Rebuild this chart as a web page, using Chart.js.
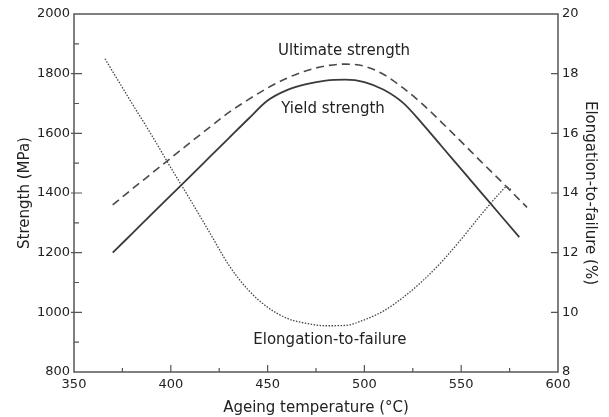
<!DOCTYPE html>
<html>
<head>
<meta charset="utf-8">
<script src="https://cdn.jsdelivr.net/npm/chart.js@4"></script>
<style>
  body { margin: 0; background: #fff; }
  canvas { display: block; }
</style>
</head>
<body>
<canvas id="ageChart" width="609" height="417"></canvas>
<script>
// values
const yieldTemp = [370, 380, 390, 400, 410, 420, 430, 440, 450, 460, 470, 480, 490, 500, 510, 520, 530, 540, 550, 560, 570, 580];
const yieldStrength = [1200, 1264, 1328, 1392, 1456, 1520, 1584, 1648, 1710, 1745, 1765, 1777, 1780, 1772, 1746, 1702, 1632, 1556, 1480, 1404, 1328, 1252];

const ultTemp = [370, 380, 390, 400, 410, 420, 430, 440, 450, 460, 470, 480, 490, 500, 510, 520, 530, 540, 550, 560, 570, 580, 584];
const ultStrength = [1360, 1413, 1465, 1517, 1569, 1620, 1670, 1713, 1752, 1785, 1810, 1826, 1832, 1825, 1797, 1752, 1698, 1636, 1572, 1507, 1443, 1378, 1352];

const elongTemp = [366, 380, 390, 400, 410, 420, 430, 440, 450, 460, 470, 480, 490, 500, 510, 520, 530, 540, 550, 560, 570, 573.5, 576];
const elongation = [18.5, 17.0, 15.95, 14.85, 13.78, 12.68, 11.58, 10.75, 10.17, 9.8, 9.63, 9.55, 9.56, 9.75, 10.05, 10.5, 11.05, 11.7, 12.45, 13.25, 14.0, 14.2, 14.1];

const xTicks = [350, 400, 450, 500, 550, 600];
const leftTicks = [800, 1000, 1200, 1400, 1600, 1800, 2000];
const rightTicks = [8, 10, 12, 14, 16, 18, 20];

const curveLabels = ['Ultimate strength', 'Yield strength', 'Elongation-to-failure'];

const FONT = 'DejaVu Sans';
const INK = '#222';
const AXIS = '#555';

function toXY(xs, ys) {
  return xs.map((x, i) => ({ x: x, y: ys[i] }));
}

// box, inward tick marks and curve labels
const framePlugin = {
  id: 'frame',
  afterDraw(chart) {
    const ctx = chart.ctx;
    const a = chart.chartArea;
    const sx = chart.scales.x, sy = chart.scales.y, sy2 = chart.scales.y2;
    ctx.save();
    ctx.strokeStyle = AXIS;
    ctx.lineWidth = 1.5;
    ctx.strokeRect(a.left, a.top, a.right - a.left, a.bottom - a.top);

    ctx.lineWidth = 1.2;
    ctx.beginPath();
    for (let v = 375; v < 600; v += 25) {
      const px = sx.getPixelForValue(v);
      const len = xTicks.includes(v) ? 7 : 4;
      ctx.moveTo(px, a.bottom);
      ctx.lineTo(px, a.bottom - len);
    }
    for (let v = 900; v < 2000; v += 100) {
      const py = sy.getPixelForValue(v);
      if (leftTicks.includes(v)) {
        ctx.moveTo(a.left - 3, py);
        ctx.lineTo(a.left + 8, py);
      } else {
        ctx.moveTo(a.left, py);
        ctx.lineTo(a.left + 5, py);
      }
    }
    rightTicks.slice(1, -1).forEach(v => {
      const py = sy2.getPixelForValue(v);
      ctx.moveTo(a.right, py);
      ctx.lineTo(a.right - 7, py);
    });
    ctx.stroke();

    ctx.fillStyle = INK;
    ctx.font = '15px "' + FONT + '"';
    ctx.textAlign = 'center';
    ctx.textBaseline = 'middle';
    const spots = [[489.5, 1876], [483.8, 1681], [482.2, 907]];
    curveLabels.forEach((t, i) => {
      ctx.fillText(t, sx.getPixelForValue(spots[i][0]), sy.getPixelForValue(spots[i][1]));
    });
    ctx.restore();
  }
};

const data = {
  datasets: [
    {
      label: 'Yield strength',
      data: toXY(yieldTemp, yieldStrength),
      yAxisID: 'y',
      borderColor: '#3a3a3a',
      borderWidth: 1.8,
      pointRadius: 0,
      cubicInterpolationMode: 'monotone',
      fill: false
    },
    {
      label: 'Ultimate strength',
      data: toXY(ultTemp, ultStrength),
      yAxisID: 'y',
      borderColor: '#4a4a4a',
      borderWidth: 1.6,
      borderDash: [8, 5],
      pointRadius: 0,
      cubicInterpolationMode: 'monotone',
      fill: false
    },
    {
      label: 'Elongation-to-failure',
      data: toXY(elongTemp, elongation),
      yAxisID: 'y2',
      borderColor: '#444',
      borderWidth: 1.3,
      borderDash: [1.5, 1.5],
      pointRadius: 0,
      cubicInterpolationMode: 'monotone',
      fill: false
    }
  ]
};

const tickFont = { family: FONT, size: 13 };
const titleFont = { family: FONT, size: 15 };

const config = {
  type: 'line',
  data: data,
  options: {
    responsive: false,
    animation: false,
    layout: { padding: { top: 14, left: 0, right: 0, bottom: 0 } },
    scales: {
      x: {
        type: 'linear',
        min: 350,
        max: 600,
        border: { display: false },
        grid: { display: false, drawTicks: false },
        ticks: {
          stepSize: 25,
          padding: 5,
          color: INK,
          font: tickFont,
          maxRotation: 0,
          autoSkip: false,
          callback: v => xTicks.includes(v) ? String(v) : ''
        },
        title: {
          display: true,
          text: 'Ageing temperature (°C)',
          color: INK,
          font: titleFont,
          padding: { top: 3, bottom: 0 }
        },
        afterFit: s => { s.height = 45; }
      },
      y: {
        position: 'left',
        min: 800,
        max: 2000,
        border: { display: false },
        grid: { display: false, drawTicks: false },
        ticks: {
          stepSize: 100,
          padding: 4,
          color: INK,
          font: tickFont,
          autoSkip: false,
          callback: v => leftTicks.includes(v) ? String(v) : ''
        },
        title: {
          display: true,
          text: 'Strength (MPa)',
          color: INK,
          font: titleFont,
          padding: { top: 16, bottom: 0 }
        },
        afterFit: s => { s.width = 74; }
      },
      y2: {
        position: 'right',
        min: 8,
        max: 20,
        border: { display: false },
        grid: { display: false, drawTicks: false },
        ticks: {
          stepSize: 2,
          padding: 4,
          color: INK,
          font: tickFont,
          autoSkip: false
        },
        title: {
          display: true,
          text: 'Elongation-to-failure (%)',
          color: INK,
          font: titleFont,
          padding: { top: 10, bottom: 0 }
        },
        afterFit: s => { s.width = 51; }
      }
    },
    plugins: {
      legend: { display: false },
      tooltip: { enabled: false }
    }
  },
  plugins: [framePlugin]
};

new Chart(document.getElementById('ageChart').getContext('2d'), config);
</script>
</body>
</html>
